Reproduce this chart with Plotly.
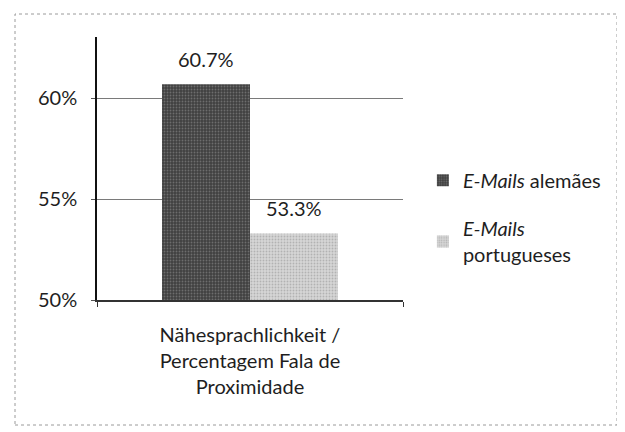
import plotly.graph_objects as go

categories = ["Nähesprachlichkeit /<br>Percentagem Fala de<br>Proximidade"]
series_names = ["<i>E-Mails</i> alemães", "<i>E-Mails</i><br>portugueses"]
german_values = [60.7]
portuguese_values = [53.3]
y_tickvals = [50, 55, 60]
y_ticktext = ["50%", "55%", "60%"]

FONT = "Lato, Open Sans, sans-serif"
FS = 20
TXT = "#1e1e1e"
BARGAP = 0.425

fig = go.Figure()
fig.add_trace(go.Bar(
    x=categories, y=german_values, name=series_names[0],
    marker=dict(color="#454545", line=dict(width=0),
                pattern=dict(shape=".", fgcolor="#9a9a9a", bgcolor="#404040", size=3, solidity=0.3)),
    legend="legend",
))
fig.add_trace(go.Bar(
    x=categories, y=portuguese_values, name=series_names[1],
    marker=dict(color="#cfcfcf", line=dict(width=0),
                pattern=dict(shape=".", fgcolor="#8e8e8e", bgcolor="#d6d6d6", size=3, solidity=0.3)),
    legend="legend2",
))

# value labels above bars (positions derived from bar grouping)
half = (1 - BARGAP) / 4
for i, (g, p) in enumerate(zip(german_values, portuguese_values)):
    for xpos, v in ((i - half, g), (i + half, p)):
        fig.add_annotation(x=xpos, y=v, xref="x", yref="y", text=f"{v:.1f}%",
                           showarrow=False, yanchor="middle", yshift=25,
                           font=dict(size=FS, color=TXT, family=FONT))

fig.update_layout(
    width=617, height=424,
    margin=dict(l=89, r=222, t=29, b=132),
    paper_bgcolor="white", plot_bgcolor="white",
    font=dict(family=FONT, size=FS, color=TXT),
    barmode="group", bargap=BARGAP, bargroupgap=0,
    legend=dict(x=1.065, y=0.529, xanchor="left", yanchor="top",
                font=dict(size=FS), bgcolor="rgba(0,0,0,0)", itemwidth=30),
    legend2=dict(x=1.065, y=0.346, xanchor="left", yanchor="top",
                 font=dict(size=FS), bgcolor="rgba(0,0,0,0)", itemwidth=30),
    showlegend=True,
)
fig.update_yaxes(
    range=[50, 63.05], tickvals=y_tickvals, ticktext=y_ticktext,
    showgrid=True, gridcolor="#7a7a7a", gridwidth=1,
    showline=True, linecolor="#111", linewidth=1.5,
    ticks="outside", ticklen=4, tickcolor="#555",
    tickfont=dict(size=FS, color=TXT), zeroline=False, ticklabelstandoff=10,
)
fig.update_xaxes(
    showline=True, linecolor="#333", linewidth=1.5,
    ticks="outside", tickson="boundaries", ticklen=5, tickcolor="#333",
    tickfont=dict(size=FS, color=TXT), ticklabelstandoff=16,
)
# dotted outer frame
fig.add_shape(type="rect", xref="paper", yref="paper",
              x0=(7-89)/306, x1=(609-89)/306, y0=(292-417)/263, y1=(292-6)/263,
              line=dict(color="#9a9a9a", width=1, dash="dot"), layer="below")

fig.write_html("out.html")
